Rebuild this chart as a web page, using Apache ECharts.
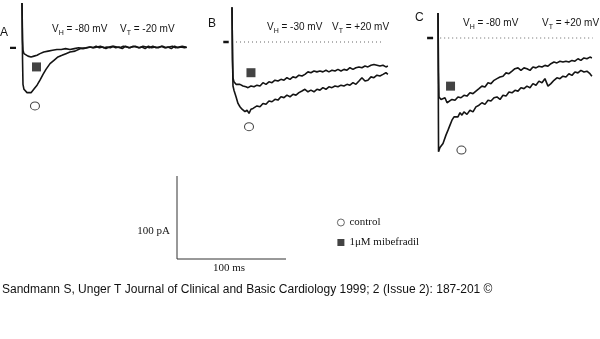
<!DOCTYPE html>
<html><head><meta charset="utf-8">
<script src="https://cdn.jsdelivr.net/npm/echarts@6/dist/echarts.min.js"></script>
<style>html,body{margin:0;padding:0;background:#fff}#c{width:600px;height:339px}</style>
</head><body><div id="c"></div>
<script>
// ---- texts ----
const panelLabels = ['A', 'B', 'C'];
const vHold = ['-80 mV', '-30 mV', '-80 mV'];
const vTest = ['-20 mV', '+20 mV', '+20 mV'];
const legendNames = ['control', '1\u03bcM mibefradil'];
const scaleBarPA = 100;
const scaleBarMs = 100;
const caption = 'Sandmann S, Unger T Journal of Clinical and Basic Cardiology 1999; 2 (Issue 2): 187-201 \u00a9';

// ---- data: [time ms, current pA] relative to test-pulse onset and holding level ----
const ctrlA = [[0,53],[0.5,-16],[0.9,-45],[1.8,-51],[2.8,-53],[4.6,-55],[6.4,-54],[8.3,-55],[10.1,-53],[11.9,-49],[13.8,-46],[16.5,-40],[19.3,-33],[22,-27],[25.7,-20],[29.3,-16],[33,-12],[36.7,-10],[40.3,-8],[44,-6],[48.6,-5],[53.2,-2],[58.7,-1],[62,0],[65,-1],[68,1],[71,-1],[74,0],[77,-2],[80,0],[83,1],[86,-1],[89,0],[92,-2],[95,1],[98,-1],[101,0],[104,1],[107,-1],[110,0],[113,-2],[116,1],[119,-1],[122,0],[125,-1],[128,1],[131,-1],[134,0],[137,-2],[140,1],[143,-1],[146,0],[149,-1],[151,0]];
const mibA = [[0,53],[0.5,8],[0.9,-4],[1.8,-8],[2.8,-10],[5.5,-11],[8.3,-12],[11,-11],[13.8,-10],[16.5,-8],[20,-6],[24,-5],[28,-4],[32,-3],[36,-3],[40,-2],[44,-3],[48,-2],[52,-1],[56,-2],[60,-1],[63,0],[66,-1],[69,0],[72,1],[75,-1],[78,0],[81,-1],[84,1],[87,0],[90,-1],[93,1],[96,0],[99,-1],[102,1],[105,0],[108,-1],[111,1],[114,0],[117,-1],[120,1],[123,-1],[126,0],[129,1],[132,-1],[135,0],[138,1],[141,-1],[144,0],[147,1],[150,0],[151,-1]];
const ctrlB = [[0,42],[0.5,-22],[0.9,-53],[1.8,-58],[3.7,-66],[5.5,-74],[7.3,-78],[9.2,-81],[11.9,-84],[13.8,-82],[15.6,-86],[17.4,-81],[19.3,-80],[21.1,-82],[22.9,-77],[25.7,-78],[28.4,-74],[31.2,-75],[33.9,-71],[36.7,-72],[39.4,-69],[42.2,-70],[44.9,-66],[47.7,-67],[50.4,-64],[53.2,-66],[55.9,-63],[58.7,-64],[61.4,-61],[64.2,-59],[66.9,-57],[69.7,-60],[72.4,-58],[75.2,-60],[77.9,-57],[80.7,-58],[83.4,-55],[86.2,-57],[88.9,-54],[91.7,-55],[94.5,-53],[97.2,-54],[100,-52],[102.7,-53],[105.5,-51],[108.2,-52],[111,-49],[113.7,-51],[116.5,-47],[119.2,-43],[122,-47],[124.7,-46],[127.5,-42],[130.2,-43],[133,-40],[135.7,-41],[138.5,-39],[141.2,-37],[143,-39]];
const mibB = [[0,42],[0.5,-22],[0.9,-43],[1.8,-48],[3.7,-51],[5.5,-52],[7.3,-51],[10.1,-53],[12.8,-54],[14.7,-55],[17.4,-53],[20.2,-54],[22.9,-52],[25.7,-53],[28.4,-49],[31.2,-51],[33.9,-48],[36.7,-49],[39.4,-46],[42.2,-47],[44.9,-45],[47.7,-46],[50.4,-43],[53.2,-45],[55.9,-42],[58.7,-43],[61.4,-40],[64.2,-41],[66.9,-39],[69.7,-36],[72.4,-37],[75.2,-35],[77.9,-36],[80.7,-35],[83.4,-36],[86.2,-34],[88.9,-36],[91.7,-34],[94.5,-35],[97.2,-33],[100,-35],[102.7,-33],[105.5,-34],[108.2,-31],[111,-33],[113.7,-31],[116.5,-30],[119.2,-31],[122,-29],[124.7,-30],[127.5,-28],[130.2,-27],[133,-28],[135.7,-29],[138.5,-28],[141.2,-30],[143,-29]];
const ctrlC = [[0,30],[0.5,-137],[1.8,-132],[4.6,-127],[7.3,-117],[9.2,-111],[11,-105],[12.8,-99],[14.7,-95],[16.5,-93],[18.3,-95],[20.2,-90],[22,-93],[23.8,-89],[26.6,-92],[29.3,-87],[32.1,-89],[34.8,-83],[37.6,-81],[40.3,-78],[43.1,-80],[45.9,-75],[48.6,-76],[51.4,-72],[54.1,-71],[56.9,-74],[59.6,-69],[62.4,-70],[65.1,-65],[67.9,-66],[70.6,-63],[73.4,-64],[76.1,-60],[78.9,-61],[81.6,-58],[84.4,-60],[87.1,-55],[89.9,-57],[92.6,-52],[95.4,-54],[98.1,-49],[100.9,-58],[103.6,-55],[106.4,-51],[109.1,-48],[111.9,-49],[114.6,-46],[117.4,-47],[120.1,-43],[122.9,-45],[125.6,-41],[128.4,-42],[131.1,-39],[133.9,-41],[136.6,-40],[139.4,-43],[141.2,-46]];
const mibC = [[0,30],[0.5,-40],[0.9,-71],[2.8,-74],[4.6,-75],[6.4,-72],[8.3,-78],[10.1,-76],[12.8,-74],[15.6,-75],[18.3,-71],[21.1,-72],[23.8,-69],[26.6,-70],[29.3,-66],[32.1,-67],[34.8,-64],[37.6,-61],[40.3,-58],[43.1,-59],[45.9,-54],[48.6,-55],[51.4,-51],[54.1,-49],[56.9,-47],[59.6,-46],[62.4,-42],[65.1,-43],[67.9,-40],[70.6,-37],[73.4,-36],[76.1,-39],[78.9,-36],[81.6,-37],[84.4,-39],[87.1,-35],[89.9,-36],[92.6,-34],[95.4,-35],[98.1,-33],[100.9,-34],[103.6,-31],[106.4,-29],[109.1,-30],[111.9,-28],[114.6,-29],[117.4,-28],[120.1,-29],[122.9,-27],[125.6,-28],[128.4,-25],[131.1,-27],[133.9,-24],[136.6,-25],[139.4,-23],[141.2,-24]];
// holding-level dashes and zero-current dotted lines
const holdA = [[-11,-1],[-5.5,-1]];
const holdB = [[-8,0],[-3,0]];
const holdC = [[-10,0],[-4.5,0]];
const zeroB = [[0,0],[138,0]];
const zeroC = [[2,0],[142,0]];
// symbol annotations [time ms, current pA]
const ctrlMarks = [[11.9,-71],[15.6,-102],[21.5,-135]];
const mibMarks = [[13.3,-24],[17.4,-37],[11.5,-58]];
// scale bar
const scaleBar = [[0, scaleBarPA],[0,0],[scaleBarMs,0]];

// ---- layout ----
const pxPerMs = 1.09, pxPerPA = 0.83;
function place(x0, y0, tMin, tMax, iMin, iMax) {
  return { left: x0 + tMin * pxPerMs, top: y0 - iMax * pxPerPA,
           width: (tMax - tMin) * pxPerMs, height: (iMax - iMin) * pxPerPA,
           ranges: [tMin, tMax, iMin, iMax] };
}
const panels = [
  place(22, 47, -15, 155, -80, 56),
  place(232, 42, -12, 150, -110, 45),
  place(438, 38, -14, 148, -145, 35),
  place(177, 259, -2, 102, -2, 102)
];
const grid = panels.map(p => ({ left: p.left, top: p.top, width: p.width, height: p.height, containLabel: false }));
const xAxis = panels.map((p, i) => ({ type: 'value', gridIndex: i, min: p.ranges[0], max: p.ranges[1], show: false }));
const yAxis = panels.map((p, i) => ({ type: 'value', gridIndex: i, min: p.ranges[2], max: p.ranges[3], show: false }));

const ink = '#141414';
function trace(data, gi, w, extra) {
  return Object.assign({ type: 'line', data: data, xAxisIndex: gi, yAxisIndex: gi, showSymbol: false, symbol: 'none',
    lineStyle: { color: ink, width: w }, silent: true, animation: false, z: 3 }, extra || {});
}
const traces = [[ctrlA, mibA, holdA, null], [ctrlB, mibB, holdB, zeroB], [ctrlC, mibC, holdC, zeroC]];
const series = [];
traces.forEach((t, gi) => {
  series.push(trace(t[0], gi, 1.6));
  series.push(trace(t[1], gi, 1.6));
  series.push(trace(t[2], gi, 2.4));
  if (t[3]) series.push(trace(t[3], gi, 1, { lineStyle: { color: '#666', width: 1, type: [1, 3] }, z: 2 }));
  series.push({ type: 'scatter', name: legendNames[0], xAxisIndex: gi, yAxisIndex: gi, data: [ctrlMarks[gi]],
    symbol: 'circle', symbolSize: [9, 8], itemStyle: { color: '#fff', borderColor: ink, borderWidth: 1 }, animation: false, z: 4 });
  series.push({ type: 'scatter', name: legendNames[1], xAxisIndex: gi, yAxisIndex: gi, data: [mibMarks[gi]],
    symbol: 'rect', symbolSize: 9, itemStyle: { color: ink }, animation: false, z: 4 });
});
series.push(trace(scaleBar, 3, 1, { lineStyle: { color: '#333', width: 1 } }));

// ---- texts ----
const sans = '"Liberation Sans", Arial, sans-serif';
const serif = '"Liberation Serif", "Times New Roman", serif';
const labelPos = [[0, 33], [208, 24], [415, 18]];
const vhPos = [[52, 31], [267, 29], [463, 25]];
const vtPos = [[120, 31], [332, 29], [542, 25]];
const rich = {
  v: { fontSize: 10, fontFamily: sans, fill: ink, color: ink, padding: [0, 0, 3, 0] },
  s: { fontSize: 7, fontFamily: sans, fill: ink, color: ink, padding: [5, 0, 0, 0] }
};
const graphic = [];
panelLabels.forEach((lab, i) => {
  graphic.push({ type: 'text', x: labelPos[i][0], y: labelPos[i][1],
    style: { text: lab, font: '12px ' + sans, fill: ink, verticalAlign: 'middle' }, silent: true });
  graphic.push({ type: 'text', x: vhPos[i][0], y: vhPos[i][1],
    style: { text: '{v|V}{s|H}{v| = ' + vHold[i] + '}', rich: rich, fill: ink, verticalAlign: 'middle' }, silent: true });
  graphic.push({ type: 'text', x: vtPos[i][0], y: vtPos[i][1],
    style: { text: '{v|V}{s|T}{v| = ' + vTest[i] + '}', rich: rich, fill: ink, verticalAlign: 'middle' }, silent: true });
});
graphic.push({ type: 'text', x: 170, y: 231, style: { text: scaleBarPA + ' pA', font: '11px ' + serif, fill: ink, align: 'right', verticalAlign: 'middle' }, silent: true });
graphic.push({ type: 'text', x: 229, y: 268, style: { text: scaleBarMs + ' ms', font: '11px ' + serif, fill: ink, align: 'center', verticalAlign: 'middle' }, silent: true });
graphic.push({ type: 'text', x: 2, y: 290, style: { text: caption, font: '12px ' + sans, fill: '#111', verticalAlign: 'middle' }, silent: true });

const chart = echarts.init(document.getElementById('c'), null, { renderer: 'canvas' });
chart.setOption({
  backgroundColor: '#fff',
  animation: false,
  grid: grid, xAxis: xAxis, yAxis: yAxis, series: series, graphic: graphic,
  legend: {
    data: [
      { name: legendNames[0], icon: 'circle', itemStyle: { color: '#fff', borderColor: ink, borderWidth: 0.8 } },
      { name: legendNames[1], icon: 'rect' }
    ],
    orient: 'vertical', left: 337, top: 217, padding: 0, itemWidth: 7, itemHeight: 7, itemGap: 9,
    selectedMode: false,
    textStyle: { fontFamily: serif, fontSize: 11, color: ink, padding: [0, 0, 0, 0] }
  }
});
</script></body></html>
